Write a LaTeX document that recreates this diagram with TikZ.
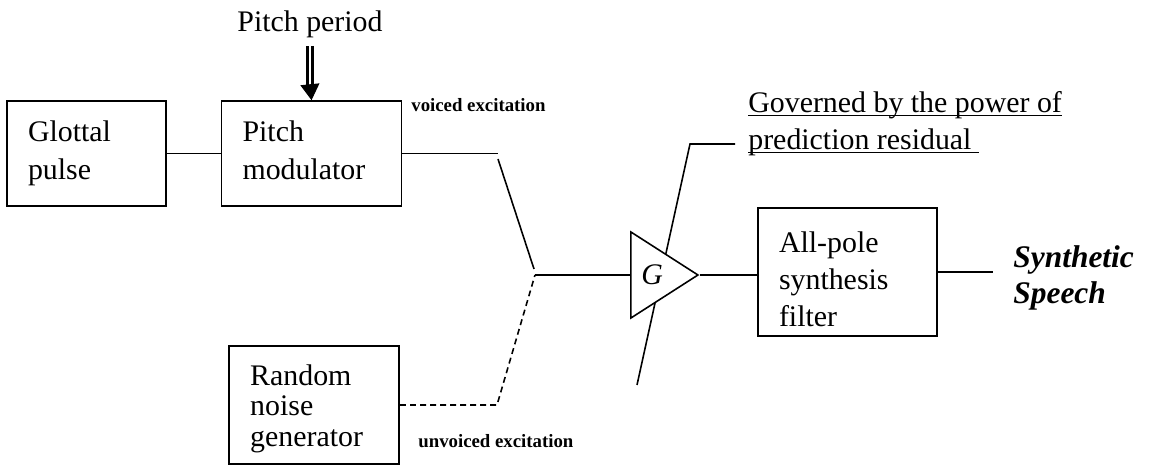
\documentclass[tikz,border=0pt]{standalone}
\usepackage{fontspec}
\setmainfont{Liberation Serif}
\usetikzlibrary{shapes,arrows.meta,positioning,calc}

\begin{document}
\begin{tikzpicture}[x=0.02cm, y=-0.02cm, block/.style = {rectangle, draw, line width=0.9pt, align=left, inner xsep=0.42cm, inner ysep=0pt, font=\fontsize{17}{21.3}\selectfont}, amp/.style = {isosceles triangle, isosceles triangle stretches, draw, fill=white, line width=0.9pt, minimum width=1.72cm, minimum height=1.34cm, inner sep=0pt, font=\fontsize{17}{20}\selectfont\itshape}, line/.style = {draw, line width=0.9pt}, dashline/.style = {line, dash pattern=on 3.4pt off 2.3pt}, lbl/.style = {inner sep=0pt, font=\fontsize{17}{21.3}\selectfont}, tag/.style = {inner sep=0pt, font=\fontsize{10.7}{13}\selectfont\bfseries}, speech/.style = {inner sep=0pt, align=left, font=\fontsize{17.9}{20.5}\selectfont\bfseries\itshape}, pshaft/.style = {draw, double, line width=1.6pt, double distance=1.2pt}, ptip/.style = {draw, line width=0.6pt, -{Triangle[width=0.38cm,length=0.32cm]}}]
			\useasboundingbox (0,0) rectangle (1150,469);
			\node[block,text width=2.34cm,text height=0.82cm,text depth=1.28cm] (glottal) at (86.5,153.5) {Glottal\\pulse};
			\node[block,text width=2.76cm,text height=0.82cm,text depth=1.28cm,right=1.08cm of glottal] (pitch) {Pitch\\modulator};
			\node[block,text width=2.56cm,text height=0.78cm,text depth=1.58cm,font=\fontsize{17}{17.6}\selectfont,anchor=east] (noise) at (400,405) {Random\\noise\\generator};
			\node[block,text width=2.74cm,text height=0.88cm,text depth=1.68cm] (filter) at (847.5,272) {All-pole\\synthesis\\filter};
			\node[lbl,anchor=base] (period) at (310,32) {Pitch period};
			\node[tag,anchor=base west] (voiced) at (411,112) {voiced excitation};
			\node[tag,anchor=base west] (unvoiced) at (418,448) {unvoiced excitation};
			\node[lbl,anchor=base west] (gov1) at (748,113) {\underline{\smash{Governed by the power of}}};
			\node[lbl,anchor=base west] (gov2) at (748,150) {\underline{\smash{prediction residual\ }}};
			\node[speech,anchor=north west] (synth) at (1013,245) {Synthetic\\Speech};
			
			\coordinate (ptop) at (310,46);
			\coordinate (pneck) at (310,85);
			\coordinate (vend) at (498,153.5);
			\coordinate (vtop) at (498,159);
			\coordinate (vbot) at (534,269);
			\coordinate (junc) at (535,275);
			\coordinate (ucorner) at (497,405);
			\coordinate (gbot) at (637,385);
			\coordinate (gtop) at (690,144);
			\coordinate (gend) at (735,144);
			\coordinate (out) at (993,272);
			
			\path[line] (gbot) -- (gtop) -- (gend);
			\node[amp,anchor=apex] (gain) at (700,275) {G};
			
			\path[pshaft] (ptop) -- (pneck);
			\path[ptip] (pneck) -- (pitch.north);
			\path[line] (glottal) -- (pitch);
			\path[line] (pitch.east) -- (vend);
			\path[line] (vtop) -- (vbot);
			\path[dashline] (noise.east) -- (ucorner) -- (junc);
			\path[line] (junc) -- (gain.lower side);
			\path[line] (gain.apex) -- (gain.apex -| filter.west);
			\path[line] (filter.east) -- (out);
			\end{tikzpicture}
\end{document}
